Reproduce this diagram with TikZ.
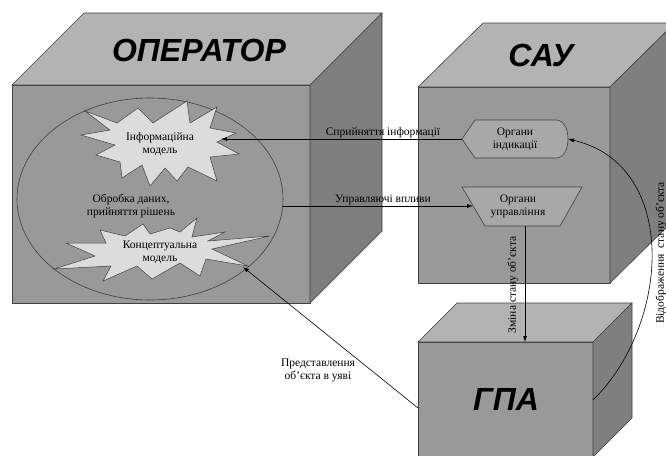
\documentclass[tikz,border=0pt]{standalone}
\usepackage{fontspec}
\setmainfont{Liberation Serif}
\newfontfamily\titlefont{Liberation Sans}
\usetikzlibrary{arrows.meta}
\definecolor{frontc}{HTML}{999999}
\definecolor{topc}{HTML}{B3B3B3}
\definecolor{sidec}{HTML}{7F7F7F}
\definecolor{burstc}{HTML}{DCDCDC}
\definecolor{devc}{HTML}{A8A8A8}
\definecolor{edgec}{HTML}{404040}
\begin{document}
\begin{tikzpicture}[x=1pt,y=-1pt,
  face/.style={draw=edgec,line width=0.6pt,line join=round},
  title/.style={font=\titlefont\bfseries\itshape\fontsize{32}{32}\selectfont},
  lbl/.style={font=\fontsize{11.5}{13}\selectfont,inner sep=0pt,align=center},
  conn/.style={draw=black,line width=0.6pt,-{Latex[length=6pt,width=4pt]}},
  burst/.style={draw=edgec,fill=burstc,line width=0.5pt,line join=miter}]
\useasboundingbox (0,0) rectangle (666,455);
\clip (0,0) rectangle (666,455);
\fill[white] (0,0) rectangle (666,455);

% ОПЕРАТОР cube
\path[face,fill=frontc] (12,85) rectangle (310,303);
\path[face,fill=topc] (12,85) -- (84,13) -- (382,13) -- (310,85) -- cycle;
\path[face,fill=sidec] (310,85) -- (382,13) -- (382,231) -- (310,303) -- cycle;
\node[title] (op) at (199,50) {ОПЕРАТОР};

% САУ cube
\path[face,fill=frontc] (418,87) rectangle (610,283);
\path[face,fill=topc] (418,87) -- (483,23) -- (675,23) -- (610,87) -- cycle;
\path[face,fill=sidec] (610,87) -- (675,23) -- (675,219) -- (610,283) -- cycle;
\node[title] (sau) at (541,55) {САУ};

% ГПА cube
\path[face,fill=frontc] (418,342) rectangle (593,457);
\path[face,fill=topc] (418,342) -- (457,303) -- (632,303) -- (593,342) -- cycle;
\path[face,fill=sidec] (593,342) -- (632,303) -- (632,418) -- (593,457) -- cycle;
\node[title] (gpa) at (506,399) {ГПА};

% ellipse
\draw[edgec,line width=0.6pt] (150,199) ellipse [x radius=133, y radius=101];
\coordinate (ellR) at (283,206);
\node[lbl] (proc) at (131,206) {Обробка даних,\\прийняття рішень};

% starburst 1
\path[burst] (85,111) -- (117,123) -- (138,108) -- (153,123) -- (187,101) -- (190,123)
  -- (217,107) -- (210,128) -- (236,133) -- (217,142) -- (239,154) -- (210,157)
  -- (217,181) -- (188,167) -- (177,181) -- (165,168) -- (150,186) -- (142,165)
  -- (122,178) -- (120,162) -- (96,155) -- (115,145) -- (81,135) -- (110,130) -- cycle;
\node[lbl] (info) at (160,144) {Інформаційна\\модель};
\coordinate (infoR) at (221,139);

% starburst 2
\path[burst] (100,230) -- (125,236) -- (143,224) -- (150,234) -- (170,228) -- (180,232)
  -- (197,218) -- (192,237) -- (225,232) -- (208,241) -- (270,236) -- (212,249)
  -- (248,266) -- (206,259) -- (200,276) -- (180,263) -- (152,279) -- (137,266)
  -- (103,281) -- (111,266) -- (54,269) -- (95,256) -- (66,243) -- (106,243) -- cycle;
\node[lbl] (conc) at (160,252) {Концептуальна\\модель};
\coordinate (concR) at (243,267);

% Органи індикації
\path[face,fill=devc] (462,139) -- (475,120) -- (556,120)
  .. controls (572,120) and (572,158) .. (556,158) -- (475,158) -- cycle;
\coordinate (indL) at (462,139);
\coordinate (indR) at (568,139);
\node[lbl] (ind) at (515,139) {Органи\\індикації};

% Органи управління
\path[face,fill=devc] (462,187) -- (582,187) -- (560,226) -- (485,226) -- cycle;
\coordinate (ctlL) at (473,206);
\coordinate (ctlB) at (525,226);
\node[lbl] (ctl) at (518,206) {Органи\\управління};

% ГПА connection points
\coordinate (gpaT) at (525,342);
\coordinate (gpaL) at (418,408);
\coordinate (gpaR) at (593,400);

% connectors
\draw[conn] (indL) -- (infoR);
\node[lbl,anchor=base] (l1) at (383,135) {Сприйняття інформації};
\draw[conn] (ellR) -- (ctlL);
\node[lbl,anchor=base] (l2) at (383,202) {Управляючі впливи};
\draw[conn] (ctlB) -- (gpaT);
\node[lbl,rotate=90] (l3) at (513,285) {Зміна стану об’єкта};
\draw[conn] (gpaR) .. controls (670,325) and (680,165) .. (indR);
\node[lbl,rotate=90] (l4) at (661,253) {Відображення\hspace{3pt} стану об’єкта};
\draw[conn] (gpaL) -- (concR);
\node[lbl] (l5) at (318,370) {Представлення\\об’єкта в уяві};
\end{tikzpicture}
\end{document}
